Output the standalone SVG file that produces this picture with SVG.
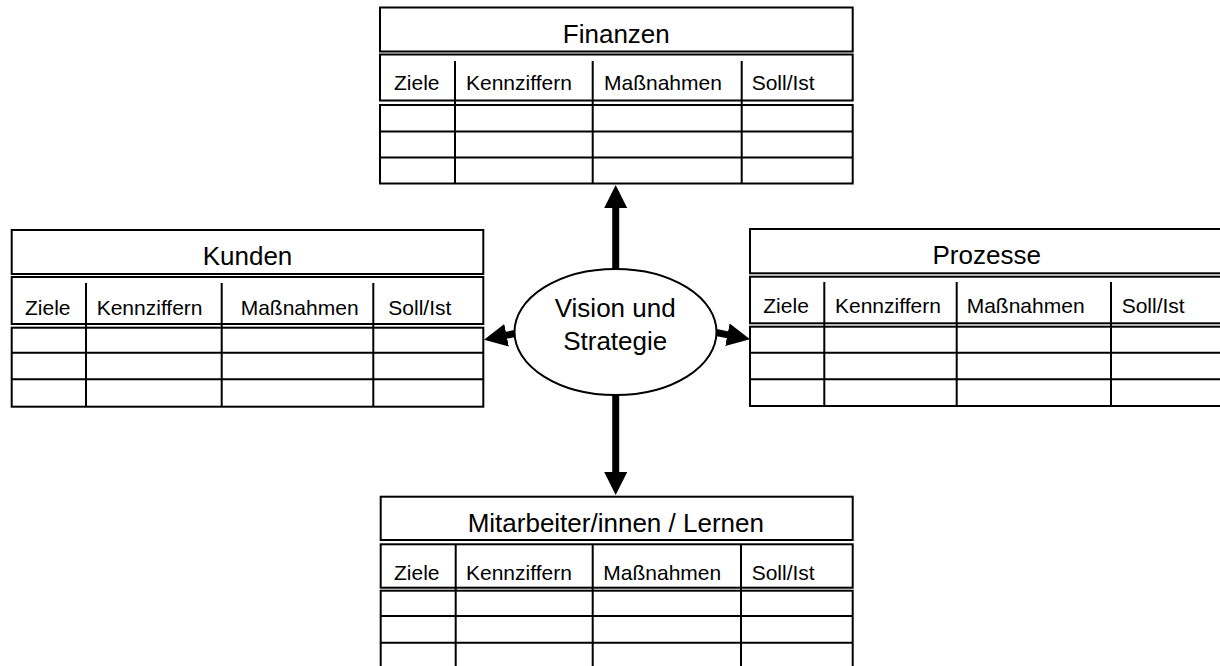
<svg xmlns="http://www.w3.org/2000/svg" width="1220" height="666" viewBox="0 0 1220 666">
<style>
.box{fill:#fff;stroke:#000;stroke-width:2}
.ln{stroke:#000;stroke-width:2;fill:none}
.t{font-family:"Liberation Sans",Arial,sans-serif;font-size:26px;fill:#000;text-anchor:middle}
.h{font-family:"Liberation Sans",Arial,sans-serif;font-size:21px;fill:#000}
.arr{stroke:#000;stroke-width:7;fill:none;marker-end:url(#ah)}
</style>
<defs>
<marker id="ah" markerUnits="userSpaceOnUse" markerWidth="24" markerHeight="24" refX="2" refY="11.5" orient="auto">
<path d="M0,0 L23,11.5 L0,23 z" fill="#000"/>
</marker>
</defs>
<rect width="1220" height="666" fill="#fff"/>
<g id="connectors">
<path class="arr" d="M615.7,272 L615.7,206"/>
<path class="arr" d="M615.7,392 L615.7,474"/>
<path class="arr" d="M520,332.5 L504.6,335.6"/>
<path class="arr" d="M711,331.5 L729.4,335.1"/>
</g>
<g id="finanzen">
<rect class="box" x="380" y="7.5" width="472.7" height="44"/>
<text class="t" x="616.3" y="43.3">Finanzen</text>
<rect class="box" x="380" y="54.5" width="472.7" height="46"/>
<rect class="box" x="380" y="105" width="472.7" height="78.5"/>
<path class="ln" d="M380,131.5 H852.7 M380,157.5 H852.7 M455,61 V183.5 M592.7,61 V183.5 M741.7,61 V183.5"/>
<text class="h" x="394" y="90">Ziele</text>
<text class="h" x="466" y="90">Kennziffern</text>
<text class="h" x="604" y="90">Maßnahmen</text>
<text class="h" x="751.7" y="90">Soll/Ist</text>
</g>
<g id="kunden">
<rect class="box" x="11.7" y="230" width="471.6" height="44"/>
<text class="t" x="247.5" y="265">Kunden</text>
<rect class="box" x="11.7" y="277" width="471.6" height="47"/>
<rect class="box" x="11.7" y="327.7" width="471.6" height="79"/>
<path class="ln" d="M11.7,352.7 H483.3 M11.7,379.3 H483.3 M86,283 V406.7 M221.7,283 V406.7 M373.3,283 V406.7"/>
<text class="h" x="25" y="315">Ziele</text>
<text class="h" x="96.7" y="315">Kennziffern</text>
<text class="h" x="240.7" y="315">Maßnahmen</text>
<text class="h" x="388.3" y="315">Soll/Ist</text>
</g>
<g id="prozesse">
<rect class="box" x="750" y="229" width="473" height="44.3"/>
<text class="t" x="986.7" y="264.3">Prozesse</text>
<rect class="box" x="750" y="276.7" width="473" height="46.6"/>
<rect class="box" x="750" y="326.7" width="473" height="79.3"/>
<path class="ln" d="M750,352.7 H1223 M750,379.3 H1223 M824.3,282 V406 M956.7,282 V406 M1111,282 V406"/>
<text class="h" x="763.3" y="313.3">Ziele</text>
<text class="h" x="835" y="313.3">Kennziffern</text>
<text class="h" x="966.7" y="313.3">Maßnahmen</text>
<text class="h" x="1121.7" y="313.3">Soll/Ist</text>
</g>
<g id="mitarbeiter">
<rect class="box" x="380.7" y="496.7" width="472" height="43.3"/>
<text class="t" x="615.8" y="531.7">Mitarbeiter/innen / Lernen</text>
<rect class="box" x="380.7" y="544.3" width="472" height="43.4"/>
<rect class="box" x="380.7" y="590.7" width="472" height="79"/>
<path class="ln" d="M380.7,616 H852.7 M380.7,642.7 H852.7 M455.7,544.3 V670 M592.7,544.3 V670 M741,544.3 V670"/>
<text class="h" x="394" y="580">Ziele</text>
<text class="h" x="466" y="580">Kennziffern</text>
<text class="h" x="603.3" y="580">Maßnahmen</text>
<text class="h" x="751.7" y="580">Soll/Ist</text>
</g>
<g id="vision">
<ellipse class="box" cx="615.5" cy="332" rx="101" ry="63"/>
<text class="t" x="615.2" y="316.7">Vision und</text>
<text class="t" x="615.2" y="350">Strategie</text>
</g>
</svg>
